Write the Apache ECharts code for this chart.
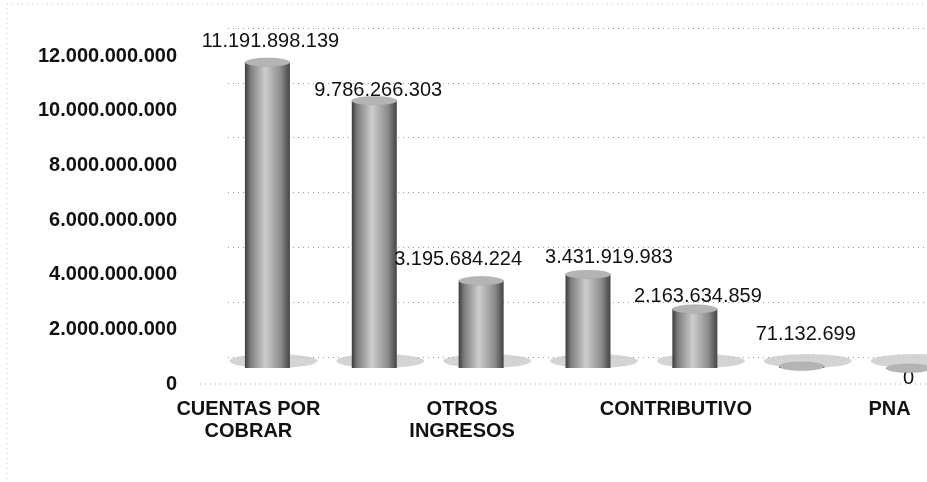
<!DOCTYPE html>
<html>
<head>
<meta charset="utf-8">
<script src="https://cdn.jsdelivr.net/npm/echarts@6/dist/echarts.min.js"></script>
<style>
  html, body { margin: 0; padding: 0; background: #fff; }
  #chart { width: 927px; height: 482px; }
</style>
</head>
<body>
<div id="chart"></div>
<script>
// categories (only every other name is printed on the original axis)
const categories = ["CUENTAS POR\nCOBRAR", "", "OTROS\nINGRESOS", "", "CONTRIBUTIVO", "", "PNA"];
const values = [11191898139, 9786266303, 3195684224, 3431919983, 2163634859, 71132699, 0];
const yTicks = [0, 2000000000, 4000000000, 6000000000, 8000000000, 10000000000, 12000000000];

// label nudges to mimic the 3D placement (px)
const labelShift = [[3, -6], [4, 5], [-23, -6], [21, -2], [3, 3], [4, -17], [0, 25]];

const fmt = (n) => String(n).replace(/\B(?=(\d{3})+(?!\d))/g, ".");

const chart = echarts.init(document.getElementById("chart"));

// gris cilíndrico
const barColor = new echarts.graphic.LinearGradient(0, 0, 1, 0, [
    { offset: 0, color: "#3c3c3c" },
    { offset: 0.12, color: "#7d7d7d" },
    { offset: 0.45, color: "#cdcdcd" },
    { offset: 0.8, color: "#8c8c8c" },
    { offset: 1, color: "#444444" },
]);

const gridDots = { type: [1, 4], color: "#9a9a9a", width: 1 };

const option = {
    backgroundColor: "#fff",
    animation: false,
    grid: [
        { left: 214, width: 748, top: 40, bottom: 114, outerBoundsMode: "none" },
        // pared del fondo (3D), desplazada hacia arriba
        { left: 228, right: 0, top: 28, bottom: 125, outerBoundsMode: "none" },
    ],
    graphic: [
        {
            // borde punteado del área
            type: "rect",
            shape: { x: 7, y: 4, width: 940, height: 520 },
            style: { fill: null, stroke: "#c4c4c4", lineWidth: 1, lineDash: [1, 4] },
            silent: true,
        },
        {
            // borde frontal del piso
            type: "line",
            shape: { x1: 200, y1: 384, x2: 927, y2: 384 },
            style: { stroke: "#9a9a9a", lineWidth: 1, lineDash: [1, 4] },
            silent: true,
        },
    ],
    xAxis: [
        {
            type: "category",
            data: categories,
            axisLine: { show: false },
            axisTick: { show: false },
            axisLabel: {
                interval: 0,
                margin: 30,
                color: "#111",
                fontFamily: "Liberation Sans",
                fontWeight: "bold",
                fontSize: 20,
                lineHeight: 22,
                padding: [0, 38, 0, 0],
            },
        },
        { type: "category", gridIndex: 1, data: categories, show: false },
    ],
    yAxis: [
        {
            type: "value",
            min: yTicks[0],
            max: yTicks[yTicks.length - 1],
            interval: yTicks[1] - yTicks[0],
            axisLine: { show: false },
            axisTick: { show: false },
            splitLine: { show: false },
            axisLabel: {
                margin: 37,
                color: "#111",
                fontFamily: "Liberation Sans",
                fontWeight: "bold",
                fontSize: 20,
                verticalAlign: "top",
                lineHeight: 32,
                formatter: (v) => fmt(v),
            },
        },
        {
            type: "value",
            gridIndex: 1,
            min: yTicks[0],
            max: yTicks[yTicks.length - 1],
            interval: yTicks[1] - yTicks[0],
            axisLine: { show: false },
            axisTick: { show: false },
            axisLabel: { show: false },
            splitLine: { lineStyle: gridDots },
        },
    ],
    series: [
        {
            // sombra en el piso
            type: "pictorialBar",
            symbol: "circle",
            symbolSize: [88, 14],
            symbolPosition: "start",
            symbolOffset: [6, 0],
            itemStyle: { color: "#c9c9c9", opacity: 0.8 },
            data: values.map(() => 0),
            z: 1,
            silent: true,
        },
        {
            type: "bar",
            barWidth: 45,
            itemStyle: { color: barColor },
            label: {
                show: true,
                position: "top",
                distance: 5,
                color: "#111",
                fontFamily: "Liberation Sans",
                fontSize: 20,
                formatter: (p) => fmt(p.value),
            },
            data: values.map((v, i) => ({ value: v, label: { offset: labelShift[i] } })),
            z: 2,
        },
        {
            // tapa del cilindro
            type: "pictorialBar",
            symbol: "circle",
            symbolSize: [45, 9],
            symbolPosition: "end",
            symbolOffset: [0, "-50%"],
            itemStyle: { color: "#b4b4b4", borderColor: "#555", borderWidth: 1 },
            data: values,
            z: 3,
            silent: true,
        },
    ],
};

chart.setOption(option);
</script>
</body>
</html>
